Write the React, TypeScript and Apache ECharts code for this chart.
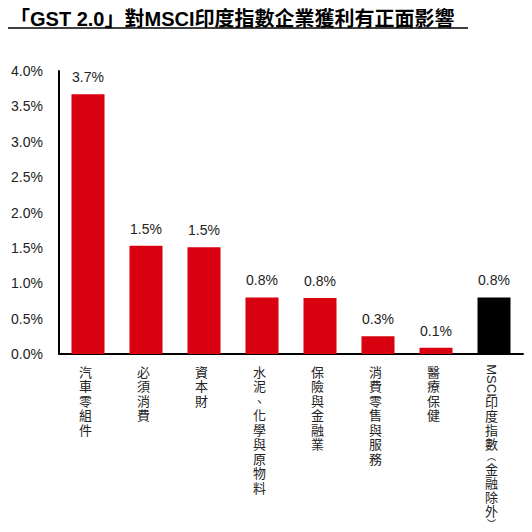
import React, { useEffect, useRef } from 'react';
import * as echarts from 'echarts';

// 各產業受惠幅度（%）
const categories = [
  '汽車零組件',
  '必須消費',
  '資本財',
  '水泥、化學與原物料',
  '保險與金融業',
  '消費零售與服務',
  '醫療保健',
  'MSCI印度指數(金融除外)',
];
const values = [3.67, 1.53, 1.51, 0.8, 0.79, 0.25, 0.09, 0.8];
const valueLabels = ['3.7%', '1.5%', '1.5%', '0.8%', '0.8%', '0.3%', '0.1%', '0.8%'];
const titleText = '「GST 2.0」對MSCI印度指數企業獲利有正面影響';

const RED = '#d9000f';
const LATIN = "'Liberation Sans', Arial, sans-serif";
const CJK = "'Liberation Sans', 'Noto Sans CJK TC', sans-serif";

const App: React.FC = () => {
  const chartRef = useRef<HTMLDivElement>(null);

  useEffect(() => {
    document.body.style.margin = '0';
    document.body.style.overflow = 'hidden';
    if (!chartRef.current) return;
    const chart = echarts.init(chartRef.current, null, { renderer: 'svg' });

    // 直排標籤：每字一行，MSCI 另外以旋轉文字補上
    const verticalLabel = (name: string) => {
      if (name.startsWith('MSCI')) {
        const rest = name
          .slice(4)
          .split('')
          .map((c) => (c === '(' ? '{p|︵}' : c === ')' ? '{p|︶}' : `{c|${c}}`));
        return ['{gap| }', ...rest].join('\n');
      }
      return name.split('').join('\n');
    };

    chart.setOption({
      animation: false,
      title: {
        text: titleText,
        left: 5,
        top: 4,
        textStyle: {
          fontSize: 20,
          fontWeight: 'bold',
          color: '#000',
          fontFamily: CJK,
        },
      },
      grid: { left: 59, right: 9, top: 71, bottom: 178, containLabel: false },
      xAxis: {
        type: 'category',
        data: categories,
        axisLine: { lineStyle: { color: '#000', width: 2 } },
        axisTick: { show: false },
        axisLabel: {
          interval: 0,
          margin: 11,
          fontSize: 13,
          lineHeight: 14.5,
          color: '#222',
          fontFamily: CJK,
          padding: [0, 5, 0, 0],
          formatter: verticalLabel,
          rich: {
            gap: { lineHeight: 30, fontSize: 13 },
            c: { lineHeight: 14, fontSize: 13, fontFamily: CJK, color: '#222' },
            p: {
              lineHeight: 11,
              fontSize: 9,
              fontFamily: "'Noto Sans CJK TC', sans-serif",
              color: '#222',
            },
          },
        },
      },
      yAxis: {
        type: 'value',
        min: 0,
        max: 4,
        interval: 0.5,
        splitLine: { show: false },
        axisTick: { show: false },
        axisLine: { show: true, lineStyle: { color: '#000', width: 2 } },
        axisLabel: {
          margin: 16,
          fontSize: 14,
          color: '#222',
          fontFamily: LATIN,
          formatter: (v: number) => v.toFixed(1) + '%',
        },
      },
      series: [
        {
          type: 'bar',
          data: values,
          barWidth: 33,
          itemStyle: {
            color: (p: any) => (p.name.startsWith('MSCI') ? '#000' : RED),
          },
          label: {
            show: true,
            position: 'top',
            distance: 10,
            fontSize: 14,
            color: '#222',
            fontFamily: LATIN,
            formatter: (p: any) => valueLabels[p.dataIndex],
          },
        },
      ],
    });

    const msciX = chart.convertToPixel({ xAxisIndex: 0 }, categories[7]) as number;
    const zeroY = chart.convertToPixel({ yAxisIndex: 0 }, 0) as number;

    chart.setOption({
      graphic: [
        {
          type: 'line',
          shape: { x1: 8, y1: 28, x2: 468, y2: 28 },
          style: { stroke: '#000', lineWidth: 1.5 },
        },
        {
          type: 'text',
          x: msciX - 2.5,
          y: zeroY + 12 + 14.5,
          rotation: -Math.PI / 2,
          style: {
            text: 'MSCI',
            fontSize: 13,
            fontFamily: LATIN,
            fill: '#222',
            align: 'center',
            verticalAlign: 'middle',
          },
        },
      ],
    });

    return () => {
      chart.dispose();
    };
  }, []);

  return <div ref={chartRef} style={{ width: 532, height: 532, overflow: 'hidden' }} />;
};

export default App;
